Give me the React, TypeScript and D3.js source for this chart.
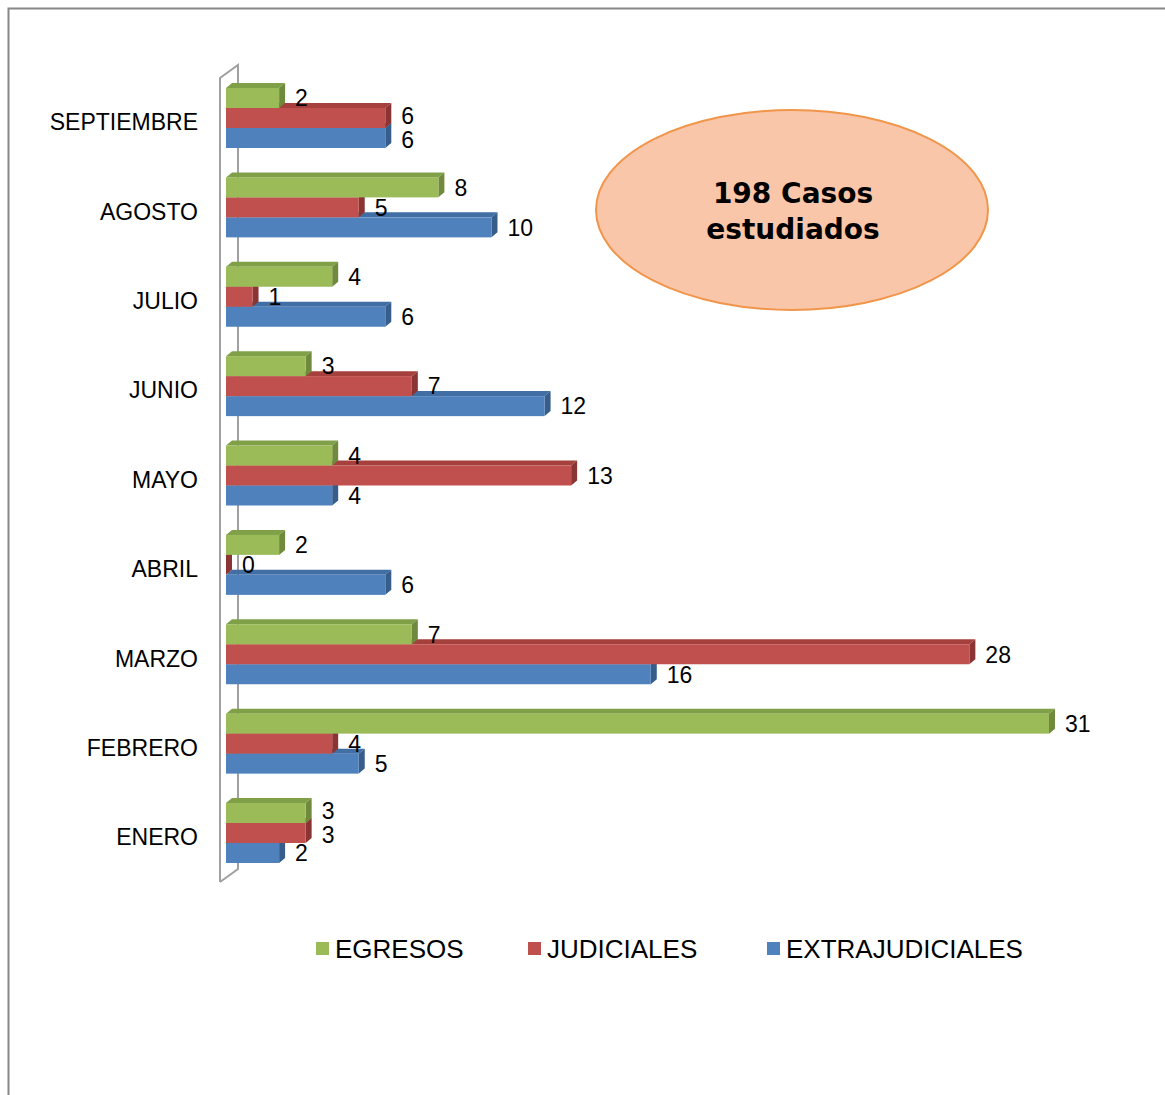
import { useEffect, useRef } from 'react'
import * as d3 from 'd3'

const months = ['SEPTIEMBRE', 'AGOSTO', 'JULIO', 'JUNIO', 'MAYO', 'ABRIL', 'MARZO', 'FEBRERO', 'ENERO']
const seriesNames = ['EGRESOS', 'JUDICIALES', 'EXTRAJUDICIALES']
const egresos = [2, 8, 4, 3, 4, 2, 7, 31, 3]
const judiciales = [6, 5, 1, 7, 13, 0, 28, 4, 3]
const extrajudiciales = [6, 10, 6, 12, 4, 6, 16, 5, 2]
const totalLabel = ['198 Casos', 'estudiados']

const colors = {
  EGRESOS: { front: '#9BBB59', top: '#80A048', side: '#6F8A3D' },
  JUDICIALES: { front: '#C0504D', top: '#A5403D', side: '#8A3533' },
  EXTRAJUDICIALES: { front: '#4F81BD', top: '#416EA5', side: '#375D8B' },
} as Record<string, { front: string; top: string; side: string }>

export default function App() {
  const svgRef = useRef<SVGSVGElement>(null)

  useEffect(() => {
    if (!svgRef.current) return
    const svg = d3.select(svgRef.current)
    svg.selectAll('*').remove()

    const W = 1165
    const H = 1095
    svg.attr('width', W).attr('height', H)

    // outer frame
    svg.append('rect')
      .attr('x', 8.5).attr('y', 8.5)
      .attr('width', 1170).attr('height', 1200)
      .attr('fill', '#fff')
      .attr('stroke', '#888').attr('stroke-width', 2)

    const depthX = 6
    const depthY = 5

    const x = d3.scaleLinear().domain([0, 31]).range([226, 1049])
    const y = d3.scaleBand<string>().domain(months).range([88, 863]).paddingInner(0.3287)
    const ys = d3.scaleBand<string>().domain(seriesNames).range([0, y.bandwidth()])

    // 3D wall
    const wall = svg.append('g').attr('fill', 'none').attr('stroke', '#a0a0a0').attr('stroke-width', 2)
    const wallTop = 78
    const wallBottom = 882
    const wallDx = 18
    const wallDy = 13
    wall.append('path')
      .attr('d', `M220,${wallBottom} L220,${wallTop} L${220 + wallDx},${wallTop - wallDy} L${220 + wallDx},${wallBottom - wallDy} L220,${wallBottom}`)

    type Datum = { month: string; series: string; value: number }
    const data: Datum[] = []
    months.forEach((m, i) => {
      // draw bottom bar first so upper bars cover its top face
      data.push({ month: m, series: 'EXTRAJUDICIALES', value: extrajudiciales[i] })
      data.push({ month: m, series: 'JUDICIALES', value: judiciales[i] })
      data.push({ month: m, series: 'EGRESOS', value: egresos[i] })
    })

    const h = ys.bandwidth()
    const bars = svg.append('g')
    data.forEach(d => {
      const x0 = x(0)
      const x1 = x(d.value)
      const y0 = y(d.month)! + ys(d.series)!
      const c = colors[d.series]
      const g = bars.append('g')
      // top face
      g.append('path')
        .attr('d', `M${x0},${y0} L${x0 + depthX},${y0 - depthY} L${x1 + depthX},${y0 - depthY} L${x1},${y0} Z`)
        .attr('fill', c.top)
      // side face
      g.append('path')
        .attr('d', `M${x1},${y0} L${x1 + depthX},${y0 - depthY} L${x1 + depthX},${y0 + h - depthY} L${x1},${y0 + h} Z`)
        .attr('fill', c.side)
      // front face
      if (x1 > x0) {
        g.append('rect')
          .attr('x', x0).attr('y', y0)
          .attr('width', x1 - x0).attr('height', h)
          .attr('fill', c.front)
      }
    })

    // value labels: place right of the bar, spread apart when two in a group collide
    const fontSize = 23
    const labels = months.flatMap((m, i) =>
      seriesNames.map((s, j) => {
        const v = [egresos, judiciales, extrajudiciales][j][i]
        const lx = x(v) + depthX + 10
        return {
          value: v,
          x: lx,
          w: String(v).length * fontSize * 0.556,
          y: y(m)! + ys(s)! + h / 2,
        }
      })
    )
    for (let i = 0; i < months.length; i++) {
      const grp = labels.slice(i * 3, i * 3 + 3)
      for (let k = 1; k < grp.length; k++) {
        const a = grp[k - 1]
        const b = grp[k]
        const overlapX = a.x < b.x + b.w && b.x < a.x + a.w
        if (overlapX && b.y - a.y < 24) {
          const mid = (a.y + b.y) / 2
          a.y = mid - 12
          b.y = mid + 12
        }
      }
    }

    svg.append('g')
      .selectAll('text')
      .data(labels)
      .enter()
      .append('text')
      .attr('x', d => d.x)
      .attr('y', d => d.y)
      .attr('dy', '0.36em')
      .attr('font-family', 'Liberation Sans, Arial, sans-serif')
      .attr('font-size', fontSize)
      .attr('fill', '#000')
      .text(d => String(d.value))

    // category labels
    svg.append('g')
      .selectAll('text')
      .data(months)
      .enter()
      .append('text')
      .attr('x', 198)
      .attr('y', d => y(d)! + y.bandwidth() / 2 + 4)
      .attr('dy', '0.36em')
      .attr('text-anchor', 'end')
      .attr('font-family', 'Liberation Sans, Arial, sans-serif')
      .attr('font-size', 23)
      .attr('fill', '#000')
      .text(d => d)

    // legend
    const legendX = [316, 528, 767]
    const legend = svg.append('g')
    seriesNames.forEach((s, i) => {
      legend.append('rect')
        .attr('x', legendX[i]).attr('y', 942)
        .attr('width', 13).attr('height', 13)
        .attr('fill', colors[s].front)
      legend.append('text')
        .attr('x', legendX[i] + 19)
        .attr('y', 949)
        .attr('dy', '0.36em')
        .attr('font-family', 'Liberation Sans, Arial, sans-serif')
        .attr('font-size', 26)
        .attr('fill', '#000')
        .text(s)
    })

    // annotation ellipse
    const ann = svg.append('g')
    ann.append('ellipse')
      .attr('cx', 792).attr('cy', 210)
      .attr('rx', 196).attr('ry', 100)
      .attr('fill', '#F9C6A9')
      .attr('stroke', '#F0954A').attr('stroke-width', 2)
    totalLabel.forEach((t, i) => {
      ann.append('text')
        .attr('x', 793)
        .attr('y', 193 + i * 36)
        .attr('dy', '0.36em')
        .attr('text-anchor', 'middle')
        .attr('font-family', 'DejaVu Sans, Verdana, sans-serif')
        .attr('font-weight', 'bold')
        .attr('font-size', 28)
        .attr('fill', '#000')
        .text(t)
    })
  }, [])

  return (
    <div style={{ position: 'absolute', left: 0, top: 0, width: 1165, height: 1095, overflow: 'hidden' }}>
      <svg ref={svgRef} style={{ display: 'block' }} />
    </div>
  )
}
